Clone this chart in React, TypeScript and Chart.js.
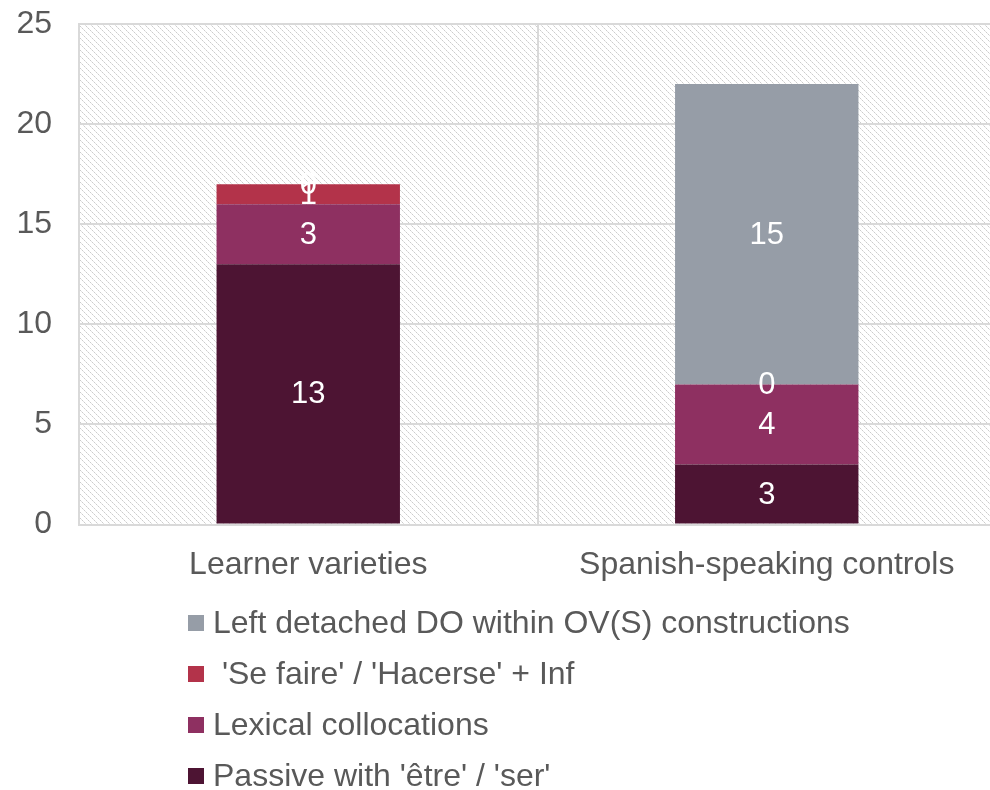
import React, { useEffect, useRef } from "react";
import { Chart, registerables } from "chart.js";

Chart.register(...registerables);

const categories = ["Learner varieties", "Spanish-speaking controls"];
const seriesNames = [
  "Passive with 'être' / 'ser'",
  "Lexical collocations",
  " 'Se faire' / 'Hacerse' + Inf",
  "Left detached DO within OV(S) constructions",
];
const passiveValues = [13, 3];
const lexicalValues = [3, 4];
const seFaireValues = [1, 0];
const leftDetachedValues = [0, 15];
const seriesColors = ["#4D1433", "#8E3061", "#B3334A", "#969DA7"];
const yTicks = [0, 5, 10, 15, 20, 25];

const FONT = "'Liberation Sans', Arial, sans-serif";
const TEXT = "#595959";

function makePattern(): CanvasPattern | string {
  const c = document.createElement("canvas");
  c.width = 6;
  c.height = 6;
  const g = c.getContext("2d");
  if (!g) return "#fff";
  g.fillStyle = "#ffffff";
  g.fillRect(0, 0, 6, 6);
  for (let i = 0; i < 6; i++) {
    g.fillStyle = i % 2 === 0 ? "#cccccc" : "#e3e3e3";
    g.fillRect(i, i, 1, 1);
  }
  const ctx = document.createElement("canvas").getContext("2d");
  return ctx ? (ctx.createPattern(c, "repeat") as CanvasPattern) : "#fff";
}

const hatchPlugin = {
  id: "hatchBg",
  beforeDraw(chart: any) {
    const { ctx, chartArea } = chart;
    if (!chartArea) return;
    ctx.save();
    ctx.fillStyle = makePattern();
    ctx.fillRect(chartArea.left, chartArea.top, chartArea.right - chartArea.left, chartArea.bottom - chartArea.top);
    ctx.restore();
  },
};

const valueLabelPlugin = {
  id: "valueLabels",
  afterDatasetsDraw(chart: any) {
    const { ctx } = chart;
    ctx.save();
    ctx.fillStyle = "#ffffff";
    ctx.font = `31px ${FONT}`;
    ctx.textAlign = "center";
    ctx.textBaseline = "middle";
    chart.data.datasets.forEach((ds: any, di: number) => {
      const meta = chart.getDatasetMeta(di);
      meta.data.forEach((bar: any, i: number) => {
        const y = (bar.y + bar.base) / 2;
        ctx.fillText(String(ds.data[i]), bar.x, y + 1);
      });
    });
    ctx.restore();
  },
};

const legendPlugin = {
  id: "customLegend",
  afterDraw(chart: any) {
    const { ctx } = chart;
    const items = chart.data.datasets.slice().reverse();
    ctx.save();
    ctx.font = `32px ${FONT}`;
    ctx.textBaseline = "middle";
    ctx.textAlign = "left";
    const startY = chart.height - 167;
    items.forEach((ds: any, k: number) => {
      const cy = startY + k * 51;
      ctx.fillStyle = ds.backgroundColor;
      ctx.fillRect(188, cy - 8, 16, 16);
      ctx.fillStyle = TEXT;
      ctx.fillText(ds.label, 213, cy + 1);
    });
    ctx.restore();
  },
};

export default function App() {
  const ref = useRef<HTMLCanvasElement>(null);
  useEffect(() => {
    if (!ref.current) return;
    const valueSets = [passiveValues, lexicalValues, seFaireValues, leftDetachedValues];
    const chart = new Chart(ref.current, {
      type: "bar",
      data: {
        labels: categories,
        datasets: valueSets.map((vals, i) => ({
          label: seriesNames[i],
          data: vals,
          backgroundColor: seriesColors[i],
          borderWidth: 0,
          barPercentage: 0.4,
          categoryPercentage: 1,
        })),
      },
      options: {
        responsive: false,
        animation: false,
        layout: { padding: { left: 16, top: 24, right: 0, bottom: 185 } },
        plugins: { legend: { display: false }, tooltip: { enabled: false } },
        scales: {
          x: {
            stacked: true,
            grid: { color: "#d9d9d9", lineWidth: 2, drawTicks: false, offset: true },
            border: { color: "#d9d9d9", width: 2 },
            ticks: { color: TEXT, font: { size: 32, family: FONT }, padding: 21 },
          },
          y: {
            stacked: true,
            min: 0,
            max: 25,
            afterBuildTicks: (axis: any) => {
              axis.ticks = yTicks.map((v) => ({ value: v }));
            },
            afterFit: (axis: any) => {
              axis.width = 63;
              axis.paddingTop = 0;
              axis.paddingBottom = 0;
            },
            grid: { color: "#d9d9d9", lineWidth: 2, drawTicks: false },
            border: { color: "#d9d9d9", width: 2 },
            ticks: { color: TEXT, font: { size: 32, family: FONT }, padding: 27 },
          },
        },
      },
      plugins: [hatchPlugin, valueLabelPlugin, legendPlugin],
    });
    return () => chart.destroy();
  }, []);
  return (
    <div style={{ position: "fixed", left: 0, top: 0, width: 990, height: 790, overflow: "hidden", background: "#fff" }}>
      <canvas ref={ref} width={996} height={790} style={{ display: "block" }} />
    </div>
  );
}
